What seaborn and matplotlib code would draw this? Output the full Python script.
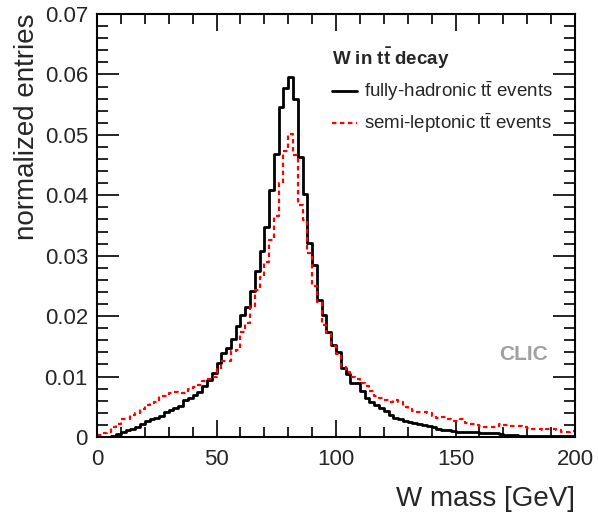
import numpy as np
import pandas as pd
import matplotlib
matplotlib.use("Agg")
import matplotlib.pyplot as plt
from matplotlib.ticker import MultipleLocator, FixedLocator
from matplotlib.lines import Line2D
import seaborn as sns

# 2 GeV bins from 0 to 200 GeV
bin_edges = list(range(0, 202, 2))

fully_hadronic = [
    0, 0, 0, 0.0002, 0.0005, 0.0008, 0.0011, 0.0014, 0.0017, 0.0021,
    0.0026, 0.0029, 0.0031, 0.0035, 0.0042, 0.0045, 0.0048, 0.0052, 0.0061, 0.0065,
    0.0070, 0.0075, 0.0085, 0.0094, 0.0106, 0.0122, 0.0139, 0.0147, 0.0162, 0.0184,
    0.0202, 0.0215, 0.0242, 0.0274, 0.0308, 0.0348, 0.0409, 0.0468, 0.0546, 0.0577,
    0.0596, 0.0559, 0.0463, 0.0402, 0.0321, 0.0285, 0.0226, 0.0202, 0.0174, 0.0152,
    0.0140, 0.0114, 0.0105, 0.0089, 0.0089, 0.0076, 0.0064, 0.0058, 0.0053, 0.0048,
    0.0043, 0.0036, 0.0032, 0.0029, 0.0026, 0.0024, 0.0023, 0.0021, 0.0020, 0.0018,
    0.0016, 0.0014, 0.0012, 0.0011, 0.0010, 0.0009, 0.0009, 0.0008, 0.0008, 0.0008,
    0.0007, 0.0007, 0.0007, 0.0006, 0.0005, 0.0004, 0.0003, 0.0003, 0.0002, 0.0002,
    0.0001, 0.0001, 0.0001, 0.0001, 0.0001, 0.0001, 0.0001, 0.0001, 0.0001, 0.0001,
]

semi_leptonic = [
    0.0004, 0.0007, 0.0009, 0.0016, 0.0022, 0.0030, 0.0030, 0.0036, 0.0040, 0.0046,
    0.0053, 0.0056, 0.0058, 0.0068, 0.0068, 0.0072, 0.0074, 0.0072, 0.0072, 0.0080,
    0.0082, 0.0086, 0.0092, 0.0096, 0.0100, 0.0112, 0.0125, 0.0125, 0.0143, 0.0144,
    0.0174, 0.0189, 0.0216, 0.0243, 0.0265, 0.0290, 0.0326, 0.0365, 0.0421, 0.0474,
    0.0501, 0.0467, 0.0384, 0.0359, 0.0304, 0.0250, 0.0224, 0.0186, 0.0172, 0.0150,
    0.0138, 0.0116, 0.0108, 0.0100, 0.0096, 0.0090, 0.0085, 0.0076, 0.0068, 0.0064,
    0.0061, 0.0058, 0.0061, 0.0058, 0.0050, 0.0046, 0.0043, 0.0042, 0.0042, 0.0039,
    0.0035, 0.0031, 0.0033, 0.0030, 0.0027, 0.0026, 0.0029, 0.0023, 0.0021, 0.0020,
    0.0019, 0.0017, 0.0017, 0.0017, 0.0021, 0.0020, 0.0019, 0.0018, 0.0019, 0.0017,
    0.0015, 0.0014, 0.0013, 0.0012, 0.0013, 0.0013, 0.0011, 0.0009, 0.0008, 0.0010,
]

x_ticks = [0, 50, 100, 150, 200]
y_ticks = [0, 0.01, 0.02, 0.03, 0.04, 0.05, 0.06, 0.07]
y_tick_labels = ["0", "0.01", "0.02", "0.03", "0.04", "0.05", "0.06", "0.07"]

sns.set_theme(style="ticks")
plt.rcParams["font.family"] = ["Liberation Sans", "DejaVu Sans"]
plt.rcParams["mathtext.fontset"] = "custom"
plt.rcParams["mathtext.rm"] = "Liberation Sans"
plt.rcParams["mathtext.bf"] = "Liberation Sans:bold"

edges = [float(e) for e in bin_edges]
centers = [(a + b) / 2 for a, b in zip(edges[:-1], edges[1:])]
df_full = pd.DataFrame({"mass": centers, "w": fully_hadronic})
df_semi = pd.DataFrame({"mass": centers, "w": semi_leptonic})

fig = plt.figure(figsize=(5.98, 5.14), dpi=100)
ax = fig.add_axes([97 / 598, 1 - 437 / 514, (575 - 97) / 598, (437 - 14) / 514])

red_dash = (0, (2, 1.6))
sns.histplot(data=df_full, x="mass", weights="w", bins=edges,
             element="step", fill=False, color="black", linewidth=2, ax=ax)
sns.histplot(data=df_semi, x="mass", weights="w", bins=edges,
             element="step", fill=False, color="#ff0000", linewidth=1.6,
             linestyle=red_dash, ax=ax)

ax.set_xlim(0, 200)
ax.set_ylim(0, 0.07)
ax.xaxis.set_major_locator(FixedLocator(x_ticks))
ax.xaxis.set_minor_locator(MultipleLocator(10))
ax.yaxis.set_major_locator(FixedLocator(y_ticks))
ax.set_yticklabels(y_tick_labels)
ax.yaxis.set_minor_locator(MultipleLocator(0.002))
ax.tick_params(which="both", direction="in", top=True, right=True, labelsize=16,
               width=1.2, color="black")
ax.tick_params(axis="y", which="major", length=16, pad=6.5)
ax.tick_params(axis="y", which="minor", length=8)
ax.tick_params(axis="x", which="major", length=12, pad=8.5)
ax.tick_params(axis="x", which="minor", length=7)
for s in ax.spines.values():
    s.set_linewidth(1.5)
    s.set_color("black")

ax.set_xlabel("W mass [GeV]", fontsize=20, loc="right", labelpad=12)
ax.set_ylabel("normalized entries", fontsize=20, loc="top", labelpad=3)

handles = [Line2D([], [], color="black", linewidth=2),
           Line2D([], [], color="#ff0000", linewidth=1.6, linestyle=red_dash)]
labels = [r"fully-hadronic $\mathrm{t\bar{t}}$ events",
          r"semi-leptonic $\mathrm{t\bar{t}}$ events"]
leg = ax.legend(handles, labels, title=r"W in $\mathbf{t\bar{t}}$ decay",
                loc="upper left", bbox_to_anchor=(332 / 598, 1 - 46 / 514),
                bbox_transform=fig.transFigure, frameon=False, fontsize=13.5,
                handlelength=1.35, handletextpad=0.36, labelspacing=0.45,
                alignment="left", borderpad=0.0, borderaxespad=0.0)
leg.get_title().set_fontweight("bold")
leg.get_title().set_fontsize(13.5)

ax.text(548 / 598, 1 - 355 / 514, "CLIC", transform=fig.transFigure, ha="right",
        va="center", fontsize=15, fontweight="bold", color="#a0a0a0")

fig.savefig("out.png", dpi=100)
